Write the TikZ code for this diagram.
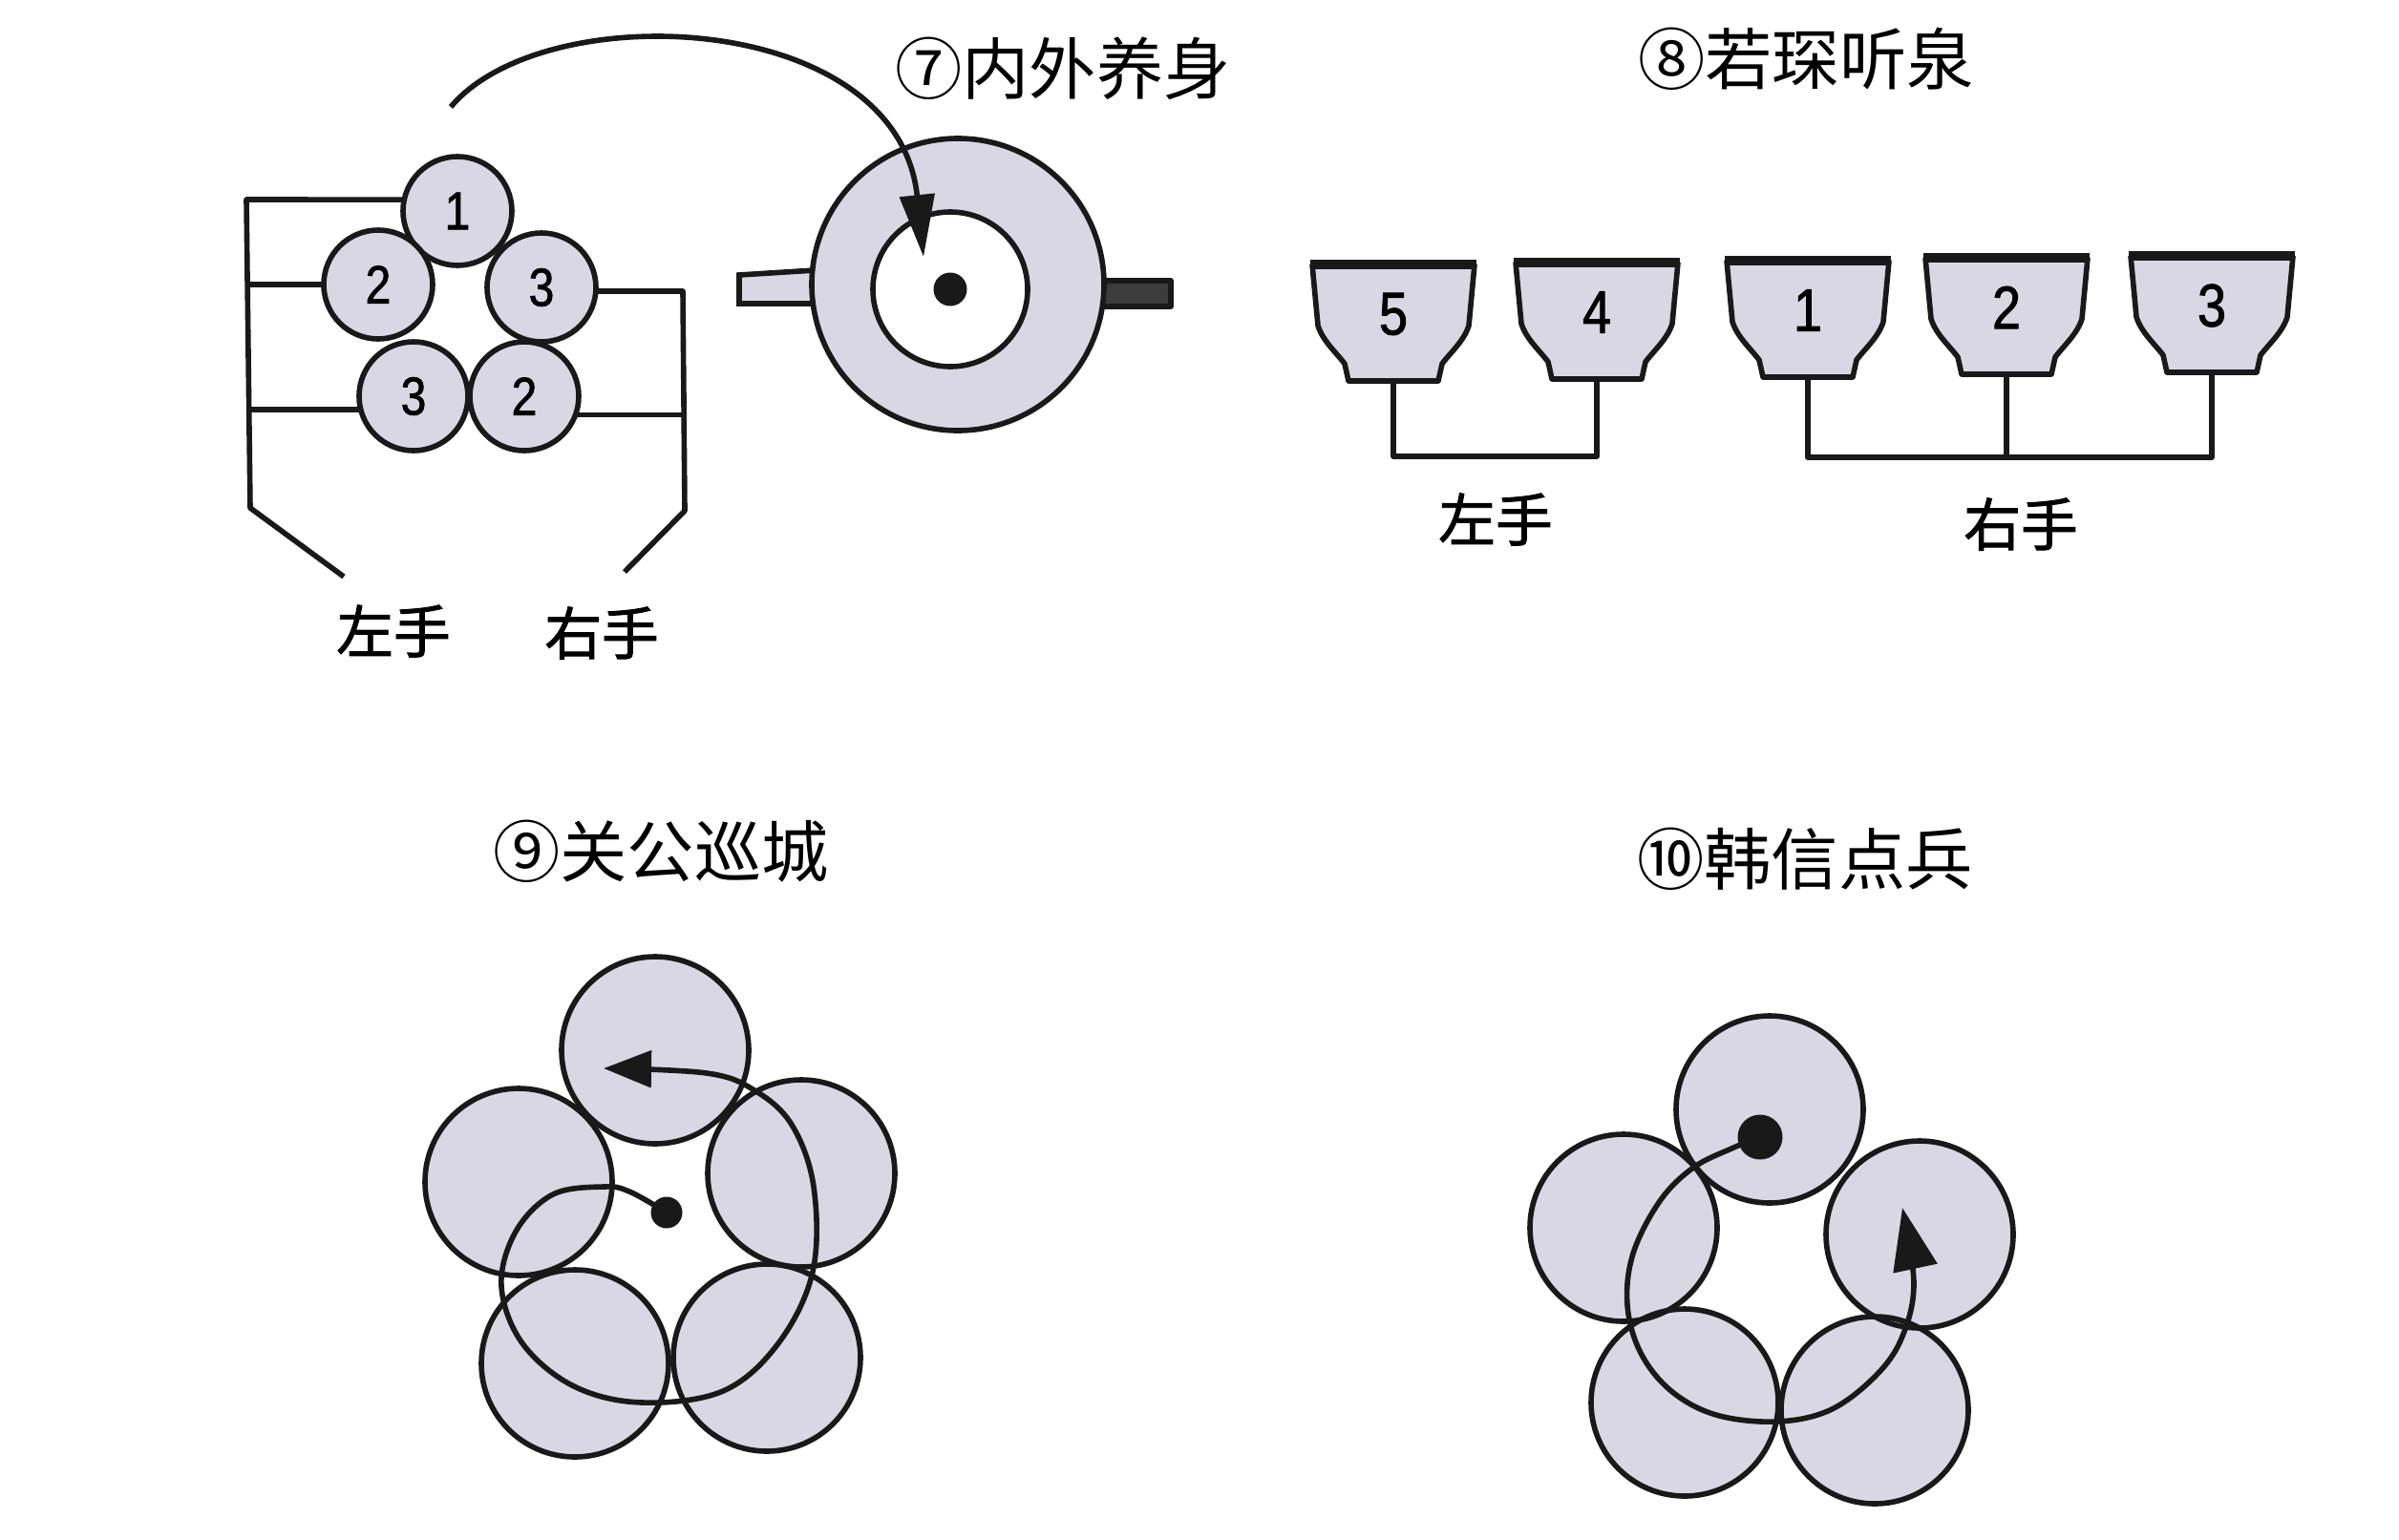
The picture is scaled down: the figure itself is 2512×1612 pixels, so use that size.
\documentclass[tikz,border=0pt]{standalone}
\usepackage{fontspec}
\usetikzlibrary{arrows.meta,positioning,calc}
\newfontfamily\cjk{Noto Sans CJK SC}
\newfontfamily\cjkhand[FakeBold=1.6]{Noto Sans CJK SC}
\newfontfamily\digitfont[FakeStretch=0.85,FakeBold=1.4]{Liberation Sans}
\definecolor{inkBlack}  {RGB}{25, 25, 25}
\definecolor{cupFill}   {RGB}{216,215,227}
\definecolor{handleGray}{RGB}{60, 60, 60}

\begin{document}
\begin{tikzpicture}[x=0.1mm,y=-0.1mm,
          wire/.style={draw=inkBlack,line width=1.6pt,line join=round},
          ballno/.style={circle,draw=inkBlack,fill=cupFill,minimum size=11.4mm,
                         inner sep=0pt,outer sep=0pt,line width=1.6pt,
                         font=\digitfont\fontsize{16pt}{18pt}\selectfont},
          cupnum/.style={inner sep=0pt,font=\digitfont\fontsize{18pt}{20pt}\selectfont},
          petal/.style={circle,fill=cupFill,minimum size=19.6mm,inner sep=0pt,outer sep=0pt},
          blackdot/.style={circle,fill=inkBlack,inner sep=0pt,outer sep=0pt},
          title/.style={font=\cjk\fontsize{20pt}{24pt}\selectfont},
          hand/.style={font=\cjkhand\fontsize{17pt}{20pt}\selectfont},
          teacup/.pic={
            \fill[cupFill] (-85,0) -- (-79,64) .. controls (-74,80) and (-60,92) .. (-51,104)
              -- (-47,122) -- (47,122) -- (51,104) .. controls (60,92) and (74,80) .. (79,64)
              -- (85,0) -- cycle;
            \draw[wire] (-85,0) -- (-79,64) .. controls (-74,80) and (-60,92) .. (-51,104)
              -- (-47,122) -- (47,122) -- (51,104) .. controls (60,92) and (74,80) .. (79,64)
              -- (85,0);
            \draw[wire,line width=2.8pt] (-87,0) -- (87,0);
            \coordinate (-foot) at (0,122);
            \coordinate (-mid) at (0,52);
          },
        ]
        \useasboundingbox (0,0) rectangle (2512,1612);

        % 7 : five balls and the pot
        \node[title] (t7) at (1113,72) {⑦内外养身};
        \node[ballno] (c1)  at (479,221) {1};
        \node[ballno] (c2)  at (396,298) {2};
        \node[ballno] (c3)  at (567,301) {3};
        \node[ballno] (c3b) at (433,415) {3};
        \node[ballno] (c2b) at (549,415) {2};
        \coordinate (L1) at (258,209);
        \coordinate (L4) at (262,532);
        \coordinate (L5) at (360,604);
        \coordinate (R1) at (715,305);
        \coordinate (R4) at (717,535);
        \coordinate (R5) at (654,599);
        \draw[wire] (c1.168) -- (L1) -- (L4) -- (L5);
        \draw[wire] (c2.west) -- (c2.west -| L1);
        \draw[wire] (c3b.194) -- (c3b.194 -| L4);
        \draw[wire] (c3.356) -- (R1) -- (R4) -- (R5);
        \draw[wire] (c2b.340) -- (c2b.340 -| R1);
        \node[hand] (lh7) at (412,661) {左手};
        \node[hand] (rh7) at (630,663) {右手};

        \fill[cupFill,draw=inkBlack,line width=1.6pt]
          (774,288) -- (870,282) -- (870,318) -- (774,318) -- cycle;
        \draw[wire,fill=handleGray] (1140,294) rectangle (1226,321);
        \node[circle,draw=inkBlack,fill=cupFill,line width=1.6pt,minimum size=30.6mm,
              inner sep=0pt,outer sep=0pt] (teaOut) at (1003,298) {};
        \node[circle,draw=inkBlack,fill=white,line width=1.6pt,minimum size=16.2mm,
              inner sep=0pt,outer sep=0pt] (teaIn) at (995,303) {};
        \node[blackdot,minimum size=3.5mm] (teaDot) at (995,303) {};
        \coordinate (arcStart) at (472,112);
        \coordinate (arcEnd) at (967,269);
        \draw[wire,-{Triangle[length=6.5mm,width=3.6mm]}]
          (arcStart) .. controls (570,-5) and (940,10) .. (arcEnd);

        % 8 : five cups
        \node[title] (t8) at (1891,62) {⑧若琛听泉};
        \foreach \n/\x/\y in {5/1459/277,4/1672/275,1/1893/273,2/2101/270,3/2316/268}{
          \pic (cup\n) at (\x,\y) {teacup};
          \node[cupnum] (num\n) at (cup\n-mid) {\n};
        }
        \coordinate (lbar) at (1570,478);
        \coordinate (rbar) at (2110,479);
        \draw[wire] (cup5-foot) |- (lbar) -| (cup4-foot);
        \draw[wire] (cup1-foot) |- (rbar) -| (cup3-foot);
        \draw[wire] (cup2-foot) -- (cup2-foot |- rbar);
        \node[hand] (lh8) at (1566,544) {左手};
        \node[hand] (rh8) at (2116,549) {右手};

        % 9 : round the city
        \node[title] (t9) at (692,892) {⑨关公巡城};
        \foreach \nm/\x/\y in {p9a/686/1100,p9b/543/1238,p9c/839/1229,p9d/602/1428,p9e/803/1422}
          \node[petal] (\nm) at (\x,\y) {};
        \foreach \nm in {p9a,p9b,p9c,p9d,p9e}
          \draw[wire] (\nm) circle[radius=9.8mm];
        \node[blackdot,minimum size=3.3mm] (d9) at (698,1270) {};
        \draw[wire,-{Triangle[length=5mm,width=3.8mm]}] plot[smooth,tension=0.6] coordinates
          {(d9.center) (659,1248) (632,1243) (579,1251) (540,1290) (525,1347) (547,1407)
           (601,1452) (672,1469) (757,1457) (815,1407) (851,1332) (852,1243) (829,1178)
           (790,1142) (740,1124) (632,1119)};

        % 10 : counting the soldiers
        \node[title] (t10) at (1890,900) {⑩韩信点兵};
        \foreach \nm/\x/\y in {p10a/1853/1162,p10b/1700/1286,p10c/2010/1293,p10d/1764/1469,p10e/1963/1477}
          \node[petal] (\nm) at (\x,\y) {};
        \foreach \nm in {p10a,p10b,p10c,p10d,p10e}
          \draw[wire] (\nm) circle[radius=9.8mm];
        \node[blackdot,minimum size=4.7mm] (d10) at (1843,1191) {};
        \draw[wire,-{Triangle[length=6.5mm,width=4.6mm]}] plot[smooth,tension=0.6] coordinates
          {(d10.center) (1813,1203) (1773,1223) (1738,1258) (1710,1313) (1704,1367) (1718,1417)
           (1750,1457) (1797,1482) (1860,1489) (1916,1477) (1963,1442) (1991,1402)
           (2004,1345) (1992,1265)};
      \end{tikzpicture}
\end{document}
